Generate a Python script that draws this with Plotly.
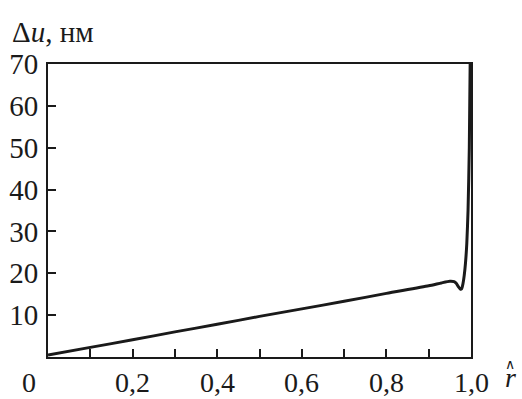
import plotly.graph_objects as go

r_vals = [0.0, 0.1, 0.2, 0.3, 0.4, 0.5, 0.6, 0.7, 0.8, 0.9, 0.93, 0.95, 0.96,
          0.965, 0.97, 0.975, 0.978, 0.981, 0.984, 0.987, 0.99, 0.993, 0.996, 0.998]
du_vals = [0.5, 2.3, 4.1, 6.0, 7.8, 9.7, 11.5, 13.3, 15.2, 17.0, 17.7, 18.1, 18.0,
           17.6, 16.8, 16.2, 16.3, 17.5, 19.5, 22.5, 27.0, 35.0, 50.0, 70.0]

x_tickvals = [0.2, 0.4, 0.6, 0.8, 1.0]
x_ticktext = ["0,2", "0,4", "0,6", "0,8", "1,0"]
y_tickvals = [10, 20, 30, 40, 50, 60, 70]
y_ticktext = ["10", "20", "30", "40", "50", "60", "70"]

W, H = 522, 399
L, R, T, B = 48, 51, 64, 42

fig = go.Figure()
fig.add_trace(go.Scatter(x=r_vals, y=du_vals, mode="lines",
                         line=dict(color="#1a1a1a", width=3, shape="spline", smoothing=0.6),
                         showlegend=False, hoverinfo="skip"))

ff = "Liberation Serif, Times New Roman, serif"
font = dict(family=ff, size=29, color="#1a1a1a")
xfont = dict(family=ff, size=28, color="#1a1a1a")

fig.update_layout(
    width=W, height=H,
    margin=dict(l=L, r=R, t=T, b=B),
    paper_bgcolor="white", plot_bgcolor="white",
    font=font,
    xaxis=dict(range=[0, 1.0], showgrid=False, zeroline=False, automargin=False,
               showline=True, linecolor="#1a1a1a", linewidth=2, mirror=True,
               ticks="inside", ticklen=8, tickwidth=1.5, tickcolor="#1a1a1a",
               tickmode="array", tickvals=[0.1, 0.2, 0.3, 0.4, 0.5, 0.6, 0.7, 0.8, 0.9],
               ticktext=[""] * 9, showticklabels=True),
    yaxis=dict(range=[0, 70], showgrid=False, zeroline=False, automargin=False,
               showline=True, linecolor="#1a1a1a", linewidth=2, mirror=True,
               ticks="inside", ticklen=8, tickwidth=1.5, tickcolor="#1a1a1a",
               tickmode="array", tickvals=y_tickvals, ticktext=y_ticktext,
               ticklabelstandoff=2),
)

# x tick labels as annotations (placed via data x)
for v, t in zip(x_tickvals, x_ticktext):
    fig.add_annotation(x=v, y=0, xref="x", yref="paper", text=t, showarrow=False,
                       yanchor="middle", yshift=-25, font=xfont)
fig.add_annotation(x=0, y=0, xref="x", yref="paper", text="0", showarrow=False,
                   yanchor="middle", xshift=-19, yshift=-25, font=xfont)

# axis label r-hat (hat and r in one text)
fig.add_annotation(x=1.0, y=0, xref="paper", yref="paper",
                   text="∧<br><span style='font-size:28px'><i>r</i></span>", showarrow=False,
                   xanchor="center", yanchor="middle", xshift=39, yshift=-18,
                   font=dict(family=ff, size=14, color="#1a1a1a"))
fig.add_annotation(x=0, y=1, xref="paper", yref="paper", text="Δ<i>u</i>, нм", showarrow=False,
                   xanchor="left", yanchor="middle", xshift=-38, yshift=32, font=font)

fig.write_html("out.html")
